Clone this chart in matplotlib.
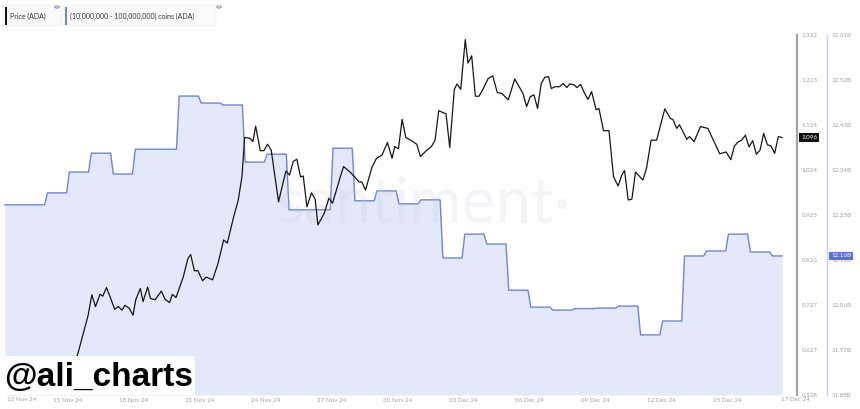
import numpy as np
import matplotlib.pyplot as plt
from matplotlib.patches import Rectangle, FancyBboxPatch, Circle

plt.rcParams['font.family'] = ['Lato', 'DejaVu Sans']

# price of ADA, hours counted from 12 Nov 2024 00:00
price_hours = [3, 9, 15, 21, 27, 33, 39, 45, 51, 57, 63, 69, 75, 80,
               83, 94, 98, 102, 107, 110, 114, 119, 123, 127, 131, 134, 139, 143,
               146, 151, 154, 159, 162, 167, 171, 174, 178, 183, 186, 190, 198, 203,
               206, 210, 214, 219, 223, 230, 236, 242, 246, 253, 258, 262, 265, 271,
               274, 277, 282, 286, 290, 294, 302, 310, 314, 318, 322, 326, 329, 333,
               338, 342, 345, 352, 357, 361, 369, 373, 381, 390, 393, 397, 404, 409,
               415, 421, 426, 429, 433, 437, 441, 448, 453, 457, 464, 469, 473, 477,
               485, 489, 494, 497, 501, 506, 509, 513, 517, 521, 525, 531, 536, 541,
               546, 553, 560, 566, 569, 573, 577, 581, 585, 589, 593, 597, 600, 604,
               609, 613, 617, 620, 625, 628, 632, 636, 640, 644, 649, 652, 657, 663,
               668, 673, 677, 680, 684, 688, 692, 700, 704, 709, 715, 724, 730, 733,
               737, 740, 748, 751, 756, 763, 771, 778, 784, 791, 796, 800, 804, 808,
               812, 816, 820, 824, 828, 832, 836, 840, 844, 848, 852]
price_values = [0.588, 0.596, 0.581, 0.569, 0.556, 0.548, 0.562, 0.553, 0.571, 0.585, 0.576, 0.567, 0.589, 0.603,
                0.621, 0.704, 0.749, 0.723, 0.750, 0.746, 0.765, 0.739, 0.717, 0.723, 0.715, 0.726, 0.719, 0.704,
                0.738, 0.763, 0.734, 0.766, 0.741, 0.738, 0.749, 0.757, 0.739, 0.732, 0.750, 0.743, 0.789, 0.829,
                0.838, 0.802, 0.802, 0.780, 0.788, 0.782, 0.819, 0.870, 0.863, 0.921, 0.958, 1.009, 1.096, 1.094,
                1.087, 1.121, 1.067, 1.067, 1.081, 1.068, 0.954, 1.022, 1.013, 1.043, 1.048, 1.009, 1.011, 0.943,
                0.974, 0.960, 0.903, 0.929, 0.962, 0.951, 1.006, 1.032, 1.018, 0.998, 0.998, 0.980, 1.030, 1.050,
                1.057, 1.085, 1.050, 1.076, 1.071, 1.136, 1.096, 1.088, 1.081, 1.054, 1.068, 1.076, 1.090, 1.155,
                1.148, 1.074, 1.202, 1.214, 1.202, 1.312, 1.260, 1.276, 1.187, 1.187, 1.201, 1.226, 1.232, 1.195,
                1.193, 1.179, 1.225, 1.204, 1.193, 1.164, 1.186, 1.190, 1.160, 1.215, 1.229, 1.230, 1.204, 1.208,
                1.208, 1.215, 1.206, 1.214, 1.212, 1.206, 1.213, 1.195, 1.180, 1.197, 1.157, 1.160, 1.111, 1.111,
                1.009, 0.989, 1.013, 1.023, 0.958, 0.960, 1.020, 1.002, 1.028, 1.090, 1.090, 1.159, 1.138, 1.135,
                1.116, 1.124, 1.092, 1.098, 1.087, 1.120, 1.116, 1.086, 1.060, 1.064, 1.047, 1.077, 1.086, 1.090,
                1.101, 1.075, 1.089, 1.059, 1.068, 1.105, 1.080, 1.077, 1.061, 1.098, 1.096]

# daily balance of wallets holding 10M - 100M ADA, billions, 12 Nov .. 17 Dec
holder_values = [12.268, 12.268, 12.292, 12.334, 12.372, 12.330, 12.380, 12.380, 12.487, 12.473,
                 12.469, 12.354, 12.370, 12.258, 12.258, 12.382, 12.276, 12.296, 12.270, 12.278,
                 12.161, 12.209, 12.189, 12.096, 12.062, 12.056, 12.059, 12.060, 12.064, 12.006,
                 12.034, 12.165, 12.175, 12.209, 12.173, 12.165]
first_hour, last_hour = 3, 852

tick_days = [3, 6, 9, 12, 15, 18, 21, 24, 27, 30, 33]
tick_labels = ['15 Nov 24', '18 Nov 24', '21 Nov 24', '24 Nov 24', '27 Nov 24', '30 Nov 24',
               '03 Dec 24', '06 Dec 24', '09 Dec 24', '12 Dec 24', '15 Dec 24']
price_ticks = [0.528, 0.627, 0.727, 0.826, 0.925, 1.024, 1.124, 1.223, 1.322]
holder_ticks = list(np.linspace(11.885, 12.61, 9))
holder_labels = ['11.88B', '11.97B', '12.06B', '12.16B', '12.25B', '12.34B', '12.43B', '12.52B', '12.61B']

# step series with short ramps at each day change
hx, hy = [], []
for k, v in enumerate(holder_values):
    hx += [max(k * 24 + 1.5, first_hour), min((k + 1) * 24 - 1.5, last_hour)]
    hy += [v, v]

W, H = 860, 409
fig = plt.figure(figsize=(W / 100, H / 100), dpi=100)
ax = fig.add_axes([0, 14 / H, 797 / W, 360 / H])
ax2 = ax.twinx()

fill_col = '#e3e8fa'
line_col = '#7084d2'
grey = '#a3a3a3'

ax.fill_between(hx, hy, 11.885, color=fill_col, lw=0)
ax.plot(hx, hy, color=line_col, lw=1.0)
ax.set_ylim(11.885, 12.61)
ax.set_xlim(-2.3, 868.4)

ax2.plot(price_hours, price_values, color='#161616', lw=0.9)
ax2.set_ylim(0.528, 1.322)

for a in (ax, ax2):
    for s in ('top', 'left', 'bottom'):
        a.spines[s].set_visible(False)

ax.yaxis.tick_right()
ax.spines['right'].set_position(('outward', 30 * 0.72))  # 30 px
ax.spines['right'].set_color('#c8cdee')
ax.spines['right'].set_linewidth(1.0)
ax2.spines['right'].set_color(grey)
ax2.spines['right'].set_linewidth(1.6)

ax.set_yticks(holder_ticks, holder_labels)
ax2.set_yticks(price_ticks, [f'{t:.3f}' for t in price_ticks])
for a in (ax, ax2):
    a.tick_params(axis='y', length=0, pad=3.5, labelsize=4.5, labelcolor='#a0a0a0')

ax.set_xticks([d * 24 for d in tick_days], tick_labels)
ax.tick_params(axis='x', length=0, pad=2, labelsize=4.5, labelcolor='#a0a0a0')
ax.annotate('12 Nov 24', xy=(0, 0), xycoords=('data', 'axes fraction'), xytext=(5, -2),
            textcoords='offset pixels', ha='left', va='top', fontsize=4.5, color='#a0a0a0')
ax.annotate('17 Dec 24', xy=(35 * 24, 0), xycoords=('data', 'axes fraction'), xytext=(24, -2),
            textcoords='offset pixels', ha='center', va='top', fontsize=4.5, color='#a0a0a0')

# last value badges
ax2.annotate(f'{price_values[-1]:.3f}', xy=(1, price_values[-1]), xycoords=('axes fraction', 'data'),
             xytext=(4, 0), textcoords='offset pixels', ha='left', va='center', fontsize=4.5,
             color='white', bbox=dict(boxstyle='square,pad=0.3', fc='#111111', ec='none'))
ax.annotate(f'{holder_values[-1]:.2f}B', xy=(1, holder_values[-1]), xycoords=('axes fraction', 'data'),
            xytext=(34, 0), textcoords='offset pixels', ha='left', va='center', fontsize=4.5,
            color='white', bbox=dict(boxstyle='square,pad=0.3', fc='#5b6fd6', ec='none'))

# santiment watermark
ax2.text(0.532, 0.53, 'santiment\u00b7', transform=ax2.transAxes, ha='center', va='center',
         fontsize=46, color='#c3c8d8', alpha=0.2, zorder=0)

# legend chips on top
def fx(x):
    return x / W

def fy(y):
    return 1 - y / H

for x0, x1, bar, label, icon in [(2, 61, '#111111', 'Price (ADA)', 57),
                                 (62, 216, line_col, '(10,000,000 - 100,000,000) coins (ADA)', 219)]:
    fig.add_artist(FancyBboxPatch((fx(x0), fy(26)), fx(x1 - x0), 21 / H,
                                  boxstyle='round,pad=0,rounding_size=0.004',
                                  transform=fig.transFigure, fc='#fafafa', ec='#f0f0f0', lw=0.5))
    fig.add_artist(Rectangle((fx(x0 + 2.5), fy(25)), 2 / W, 18 / H, transform=fig.transFigure,
                             fc=bar, ec='none'))
    fig.text(fx(x0 + 8.5), fy(16), label, fontsize=5, color='#333333', va='center', ha='left')
    fig.add_artist(Circle((fx(icon), fy(7)), 2.2 / W, transform=fig.transFigure,
                          fc='white', ec='#8a94c0', lw=0.8))

# author tag
fig.add_artist(Rectangle((0, 14 / H), 195 / W, 39 / H, transform=fig.transFigure,
                         fc='white', ec='none', zorder=5))
fig.text(fx(4), fy(386), '@ali_charts', fontsize=24, weight='bold', color='black',
         family=['Liberation Sans', 'DejaVu Sans'], ha='left', va='baseline', zorder=6)

fig.savefig('out.png', dpi=100, facecolor='white')
